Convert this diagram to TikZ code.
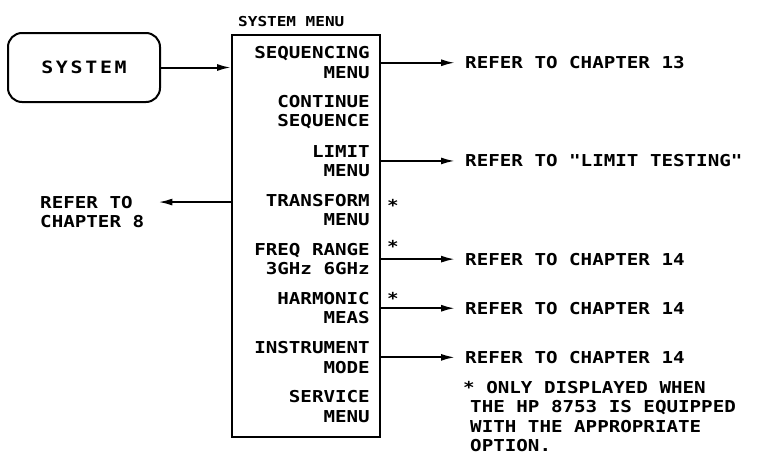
\documentclass[tikz,border=0pt]{standalone}
\usepackage{fontspec}
\newfontfamily\hpfont{DejaVu Sans Mono}[FakeStretch=1.17]
\newfontfamily\hpwide{DejaVu Sans Mono}[FakeStretch=1.17, LetterSpace=16]
\usetikzlibrary{arrows.meta, positioning}

\begin{document}
\begin{tikzpicture}[
  x=1pt, y=-1pt,
  every node/.style={font=\hpfont\bfseries\fontsize{16.4}{19.5}\selectfont, inner sep=0pt},
  item/.style={align=right, anchor=east},
  refer/.style={align=left, anchor=west},
  astx/.style={anchor=base},
  arrow/.style={-{Latex[length=14pt, width=7pt]}, line width=2pt, shorten >=10pt}
]
\useasboundingbox (0,0) rectangle (757,471);

\node[draw, line width=2pt, rounded corners=14pt, minimum width=152pt, minimum height=69pt,
      font=\hpwide\bfseries\fontsize{17}{20}\selectfont] (system) at (84,67.5) {SYSTEM};
\node[draw, line width=2pt, minimum width=148pt, minimum height=402pt] (menu) at (306,236) {};
\node[anchor=west, font=\hpfont\bfseries\fontsize{13.7}{16}\selectfont] (title) at (238,22) {SYSTEM MENU};

% softkeys of the menu
\node[item] (i1) at (370,62.75) {SEQUENCING\\MENU};
\node[item] (i2) at (370,111.85) {CONTINUE\\SEQUENCE};
\node[item] (i3) at (370,160.95) {LIMIT\\MENU};
\node[item] (i4) at (370,210.05) {TRANSFORM\\MENU};
\node[item] (i5) at (370,259.15) {FREQ RANGE\\3GHz 6GHz};
\node[item] (i6) at (370,308.25) {HARMONIC\\MEAS};
\node[item] (i7) at (370,357.35) {INSTRUMENT\\MODE};
\node[item] (i8) at (370,406.45) {SERVICE\\MENU};

\node[astx] (s4) at (393,211.5) {*};
\node[astx] (s5) at (393,252.5) {*};
\node[astx] (s6) at (393,304.5) {*};

\node[refer, right=95pt of i1] (r1) {REFER TO CHAPTER 13};
\node[refer, right=95pt of i3] (r3) {REFER TO "LIMIT TESTING"};
\node[refer, right=95pt of i5] (r5) {REFER TO CHAPTER 14};
\node[refer, right=95pt of i6] (r6) {REFER TO CHAPTER 14};
\node[refer, right=95pt of i7] (r7) {REFER TO CHAPTER 14};
\node[refer] (ch8) at (40,212) {REFER TO\\CHAPTER 8};

\node[refer] (note) at (463,416.5)
  {* ONLY DISPLAYED WHEN\\\hspace*{7pt}THE HP 8753 IS EQUIPPED\\\hspace*{7pt}WITH THE APPROPRIATE\\\hspace*{7pt}OPTION.};

\draw[arrow, shorten >=0pt] (system) -- (system -| menu.west);
\draw[arrow] (i1 -| menu.east) -- (r1);
\draw[arrow] (i3 -| menu.east) -- (r3);
\draw[arrow] (i5 -| menu.east) -- (r5);
\draw[arrow] (i6 -| menu.east) -- (r6);
\draw[arrow] (i7 -| menu.east) -- (r7);
\draw[arrow, shorten >=0pt] ([yshift=8pt]i4.center -| menu.west) -- ([yshift=8pt, xshift=14pt]i4.center -| ch8.east);
\end{tikzpicture}
\end{document}
